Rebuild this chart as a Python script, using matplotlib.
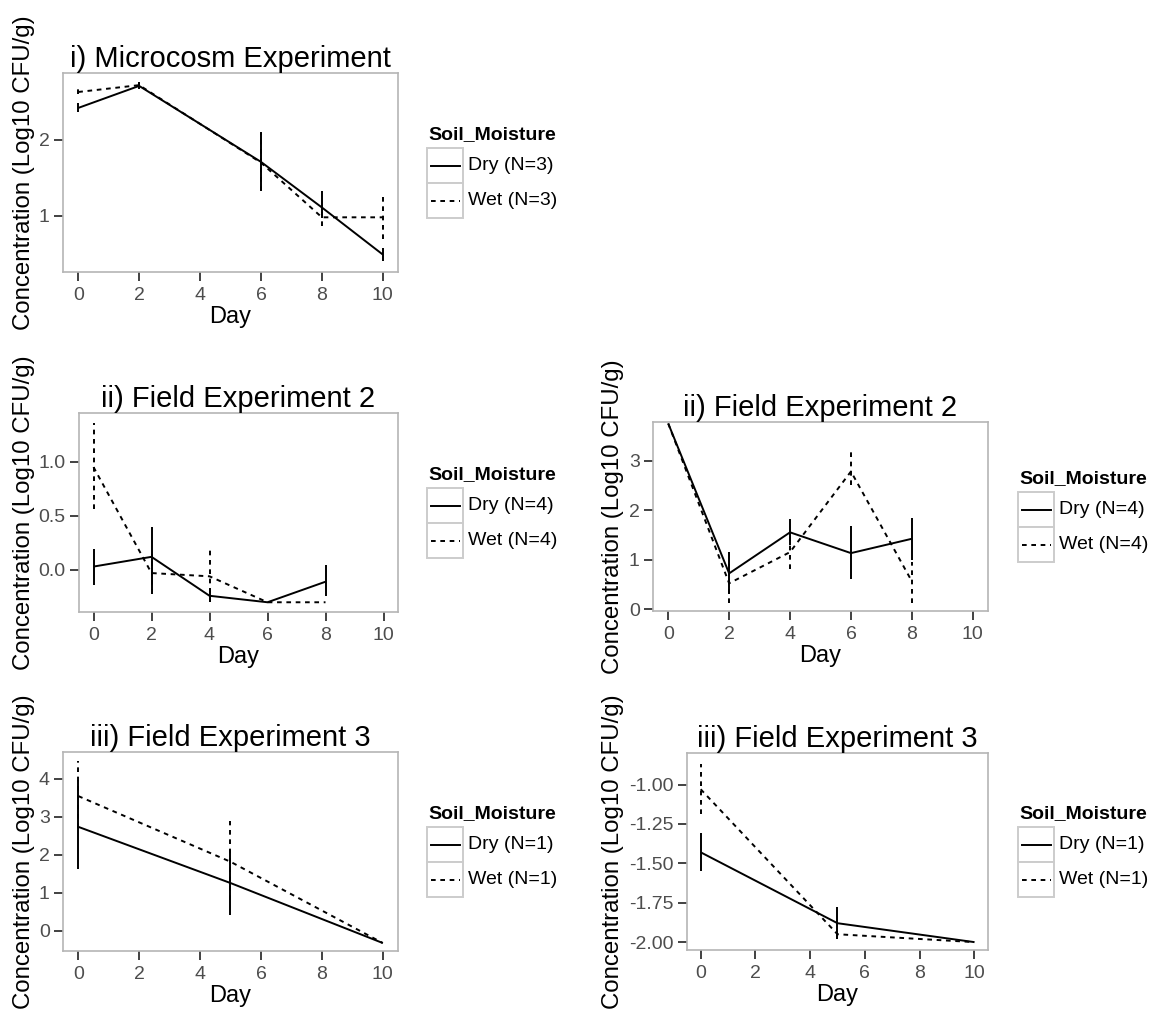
import matplotlib

matplotlib.use("Agg")

import matplotlib.pyplot as plt
from matplotlib.lines import Line2D
from matplotlib.patches import Rectangle

plt.rcParams["font.family"] = ["Liberation Sans", "DejaVu Sans"]

W, H = 1150, 1010

# --- data ------------------------------------------------------------------

micro_days = [0, 2, 6, 8, 10]
micro_dry = [2.42, 2.71, 1.71, 1.11, 0.49]
micro_dry_lo = [2.36, 2.67, 1.34, 0.97, 0.41]
micro_dry_hi = [2.48, 2.76, 2.09, 1.32, 0.58]
micro_wet = [2.63, 2.72, 1.70, 0.98, 0.98]
micro_wet_lo = [2.60, 2.69, 1.33, 0.86, 0.70]
micro_wet_hi = [2.67, 2.76, 2.10, 1.10, 1.28]

f2a_days = [0, 2, 4, 6, 8]
f2a_dry = [0.03, 0.12, -0.24, -0.30, -0.11]
f2a_dry_lo = [-0.14, -0.19, -0.30, -0.30, -0.24]
f2a_dry_hi = [0.19, 0.40, -0.18, -0.30, 0.04]
f2a_wet = [0.95, -0.03, -0.06, -0.30, -0.30]
f2a_wet_lo = [0.56, -0.22, -0.30, -0.30, -0.30]
f2a_wet_hi = [1.36, 0.15, 0.19, -0.30, -0.30]

f2b_days = [0, 2, 4, 6, 8]
f2b_dry = [3.75, 0.72, 1.55, 1.13, 1.42]
f2b_dry_lo = [3.75, 0.30, 1.30, 0.60, 1.00]
f2b_dry_hi = [3.75, 1.15, 1.82, 1.67, 1.84]
f2b_wet = [3.75, 0.52, 1.15, 2.78, 0.56]
f2b_wet_lo = [3.75, 0.13, 0.80, 2.50, 0.13]
f2b_wet_hi = [3.75, 0.90, 1.50, 3.17, 0.95]

f3a_days = [0, 5, 10]
f3a_dry = [2.74, 1.26, -0.32]
f3a_dry_lo = [1.62, 0.42, -0.32]
f3a_dry_hi = [3.98, 2.15, -0.32]
f3a_wet = [3.55, 1.82, -0.32]
f3a_wet_lo = [2.70, 0.80, -0.32]
f3a_wet_hi = [4.48, 2.90, -0.32]

f3b_days = [0, 5, 10]
f3b_dry = [-1.43, -1.88, -2.00]
f3b_dry_lo = [-1.55, -1.98, -2.00]
f3b_dry_hi = [-1.31, -1.78, -2.00]
f3b_wet = [-1.03, -1.95, -2.00]
f3b_wet_lo = [-1.19, -1.98, -2.00]
f3b_wet_hi = [-0.87, -1.93, -2.00]

x_ticks = [0, 2, 4, 6, 8, 10]

# Styling
DASH = (0, (2.4, 2.4))
LW = 1.4
FRAME = "#b5b5b5"
TICK_COL = "#4d4d4d"
YLABEL = "Concentration (Log10 CFU/g)"


def px_box(left, top, right, bottom):
    return [left / W, 1 - bottom / H, (right - left) / W, (bottom - top) / H]


def panel(fig, box, title, days, dry, dry_lo, dry_hi, wet, wet_lo, wet_hi,
          ylim, yticks, yfmt, ylabel_x):
    ax = fig.add_axes(px_box(*box))
    ax.plot(days, dry, color="black", lw=LW, solid_capstyle="butt")
    ax.plot(days, wet, color="black", lw=LW, linestyle=DASH)
    ax.vlines(days, dry_lo, dry_hi, color="black", lw=LW)
    ax.vlines(days, wet_lo, wet_hi, color="black", lw=LW, linestyles=[DASH])
    ax.set_xlim(-0.5, 10.5)
    ax.set_ylim(*ylim)
    ax.set_xticks(x_ticks)
    ax.set_yticks(yticks)
    ax.set_yticklabels([yfmt.format(v) for v in yticks])
    for sp in ax.spines.values():
        sp.set_color(FRAME)
        sp.set_linewidth(1.2)
    ax.tick_params(length=6.5, width=1.3, color="#333333", labelcolor=TICK_COL,
                   labelsize=14, pad=3)
    ax.tick_params(axis="x", pad=4)
    ax.set_xlabel("Day", fontsize=17, labelpad=2)
    ax.set_title(title, fontsize=21, pad=4)
    left, top, right, bottom = box
    yc = (top + bottom) / 2
    fig.text(ylabel_x / W, 1 - yc / H, YLABEL, rotation=90, fontsize=17.3,
             ha="center", va="center")
    return ax


def legend(fig, x, yc, n):
    """ggplot-style legend: bold title and two grey-framed keys."""
    def fx(v):
        return v / W

    def fy(v):
        return 1 - v / H

    fig.text(fx(x + 1), fy(yc - 38), "Soil_Moisture", fontsize=14,
             weight="bold", ha="left", va="center")
    rows = [("Dry", "-"), ("Wet", DASH)]
    for i, (name, ls) in enumerate(rows):
        top = yc - 24.5 + 35 * i
        fig.add_artist(Rectangle((fx(x), fy(top + 35)), 36 / W, 35 / H,
                                 transform=fig.transFigure, facecolor="white",
                                 edgecolor="#cccccc", lw=1.4))
        fig.add_artist(Line2D([fx(x + 3.5), fx(x + 32.5)],
                              [fy(top + 17.5)] * 2, transform=fig.transFigure,
                              color="black", lw=LW, linestyle=ls))
        fig.text(fx(x + 41), fy(top + 17.5), f"{name} (N={n})", fontsize=14,
                 ha="left", va="center")


fig = plt.figure(figsize=(W / 100, H / 100), dpi=100)

panel(fig, (63, 73, 398, 272), "i) Microcosm Experiment", micro_days,
      micro_dry, micro_dry_lo, micro_dry_hi,
      micro_wet, micro_wet_lo, micro_wet_hi,
      (0.26, 2.88), [1, 2], "{:.0f}", 24)
legend(fig, 427, 172.5, 3)

panel(fig, (79, 413, 398, 612), "ii) Field Experiment 2", f2a_days,
      f2a_dry, f2a_dry_lo, f2a_dry_hi,
      f2a_wet, f2a_wet_lo, f2a_wet_hi,
      (-0.39, 1.45), [0.0, 0.5, 1.0], "{:.1f}", 24)
legend(fig, 427, 512.5, 4)

panel(fig, (653, 422, 988, 611), "ii) Field Experiment 2", f2b_days,
      f2b_dry, f2b_dry_lo, f2b_dry_hi,
      f2b_wet, f2b_wet_lo, f2b_wet_hi,
      (-0.04, 3.78), [0, 1, 2, 3], "{:.0f}", 613)
legend(fig, 1018, 516.5, 4)

panel(fig, (63, 752, 398, 951), "iii) Field Experiment 3", f3a_days,
      f3a_dry, f3a_dry_lo, f3a_dry_hi,
      f3a_wet, f3a_wet_lo, f3a_wet_hi,
      (-0.53, 4.71), [0, 1, 2, 3, 4], "{:.0f}", 24)
legend(fig, 427, 851.5, 1)

panel(fig, (687, 753, 988, 950), "iii) Field Experiment 3", f3b_days,
      f3b_dry, f3b_dry_lo, f3b_dry_hi,
      f3b_wet, f3b_wet_lo, f3b_wet_hi,
      (-2.05, -0.80), [-2.0, -1.75, -1.5, -1.25, -1.0], "{:.2f}", 613)
legend(fig, 1018, 851.5, 1)

fig.savefig("out.png", dpi=100)
